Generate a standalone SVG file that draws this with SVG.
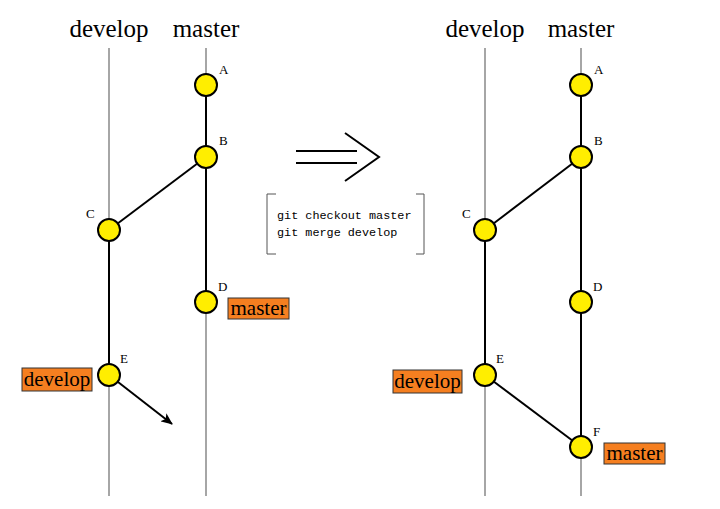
<svg xmlns="http://www.w3.org/2000/svg" width="720" height="509" viewBox="0 0 720 509">
<defs>
<style>
.gl{stroke:#888;stroke-width:1.5;fill:none}
.bl{stroke:#000;stroke-width:2;fill:none}
.n{fill:#ffee00;stroke:#000;stroke-width:2}
.tg{fill:#f57f20;stroke:#333;stroke-width:1}
</style>
<marker id="ah" viewBox="0 0 12 10" refX="11" refY="5" markerWidth="12" markerHeight="10" markerUnits="userSpaceOnUse" orient="auto">
<path d="M0,0 L12,5 L0,10 L3,5 Z" fill="#000"/>
</marker>
</defs>
<rect width="720" height="509" fill="#fff"/>
<text x="109" y="37" text-anchor="middle" style="font-family:'Liberation Serif',serif;font-size:25px">develop</text>
<text x="206" y="37" text-anchor="middle" style="font-family:'Liberation Serif',serif;font-size:25px">master</text>
<text x="485" y="37" text-anchor="middle" style="font-family:'Liberation Serif',serif;font-size:25px">develop</text>
<text x="581" y="37" text-anchor="middle" style="font-family:'Liberation Serif',serif;font-size:25px">master</text>
<g id="connectors">
<line class="gl" x1="109" y1="48" x2="109" y2="496"/>
<line class="gl" x1="206" y1="48" x2="206" y2="496"/>
<line class="bl" x1="206" y1="85" x2="206" y2="302"/>
<line class="bl" x1="206" y1="157" x2="109" y2="230"/>
<line class="bl" x1="109" y1="230" x2="109" y2="375"/>
<line class="bl" x1="109" y1="375" x2="172" y2="424" marker-end="url(#ah)"/>
<line class="gl" x1="485" y1="48" x2="485" y2="496"/>
<line class="gl" x1="581" y1="48" x2="581" y2="496"/>
<line class="bl" x1="581" y1="85" x2="581" y2="447"/>
<line class="bl" x1="581" y1="157" x2="485" y2="230"/>
<line class="bl" x1="485" y1="230" x2="485" y2="375"/>
<line class="bl" x1="485" y1="375" x2="581" y2="447"/>
</g>
<g id="L_A"><circle class="n" cx="206" cy="85" r="11"/><text x="219" y="74" style="font-family:'Liberation Serif',serif;font-size:13px">A</text></g>
<g id="L_B"><circle class="n" cx="206" cy="157" r="11"/><text x="219" y="145" style="font-family:'Liberation Serif',serif;font-size:13px">B</text></g>
<g id="L_C"><circle class="n" cx="109" cy="230" r="11"/><text x="86" y="218" style="font-family:'Liberation Serif',serif;font-size:13px">C</text></g>
<g id="L_D"><circle class="n" cx="206" cy="302" r="11"/><text x="218" y="291" style="font-family:'Liberation Serif',serif;font-size:13px">D</text></g>
<g id="L_E"><circle class="n" cx="109" cy="375" r="11"/><text x="120" y="363" style="font-family:'Liberation Serif',serif;font-size:13px">E</text></g>
<g id="R_A"><circle class="n" cx="581" cy="85" r="11"/><text x="594" y="74" style="font-family:'Liberation Serif',serif;font-size:13px">A</text></g>
<g id="R_B"><circle class="n" cx="581" cy="157" r="11"/><text x="594" y="145" style="font-family:'Liberation Serif',serif;font-size:13px">B</text></g>
<g id="R_C"><circle class="n" cx="485" cy="230" r="11"/><text x="462" y="218" style="font-family:'Liberation Serif',serif;font-size:13px">C</text></g>
<g id="R_D"><circle class="n" cx="581" cy="302" r="11"/><text x="593" y="291" style="font-family:'Liberation Serif',serif;font-size:13px">D</text></g>
<g id="R_E"><circle class="n" cx="485" cy="375" r="11"/><text x="496" y="363" style="font-family:'Liberation Serif',serif;font-size:13px">E</text></g>
<g id="R_F"><circle class="n" cx="581" cy="447" r="11"/><text x="593" y="436" style="font-family:'Liberation Serif',serif;font-size:13px">F</text></g>
<g id="tag_master_L"><rect class="tg" x="228" y="298" width="61" height="21"/><text x="258.5" y="315" text-anchor="middle" style="font-family:'Liberation Serif',serif;font-size:21px">master</text></g>
<g id="tag_develop_L"><rect class="tg" x="22" y="368" width="70" height="23"/><text x="57" y="386" text-anchor="middle" style="font-family:'Liberation Serif',serif;font-size:21px">develop</text></g>
<g id="tag_develop_R"><rect class="tg" x="393" y="370" width="69" height="23"/><text x="427.5" y="388" text-anchor="middle" style="font-family:'Liberation Serif',serif;font-size:21px">develop</text></g>
<g id="tag_master_R"><rect class="tg" x="604" y="443" width="61" height="21"/><text x="634.5" y="460" text-anchor="middle" style="font-family:'Liberation Serif',serif;font-size:21px">master</text></g>
<g id="implies">
<line class="bl" x1="296" y1="151" x2="357" y2="151"/>
<line class="bl" x1="296" y1="163" x2="357" y2="163"/>
<polyline class="bl" points="345,133 379,157 345,181"/>
</g>
<g id="commands">
<polyline points="276,194 267,194 267,254 276,254" fill="none" stroke="#555" stroke-width="1"/>
<polyline points="416,194 424,194 424,254 416,254" fill="none" stroke="#555" stroke-width="1"/>
<text x="277" y="219" style="font-family:'Liberation Mono',monospace;font-size:11.8px">git checkout master</text>
<text x="277" y="236" style="font-family:'Liberation Mono',monospace;font-size:11.8px">git merge develop</text>
</g>
</svg>
